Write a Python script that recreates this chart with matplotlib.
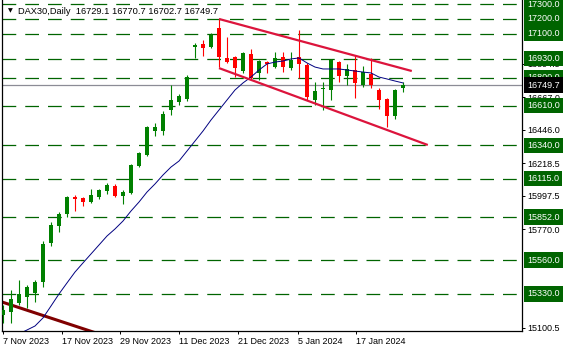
import matplotlib.pyplot as plt
from matplotlib.transforms import blended_transform_factory

plt.rcParams['font.family'] = ['Liberation Sans', 'DejaVu Sans']

# daily candles, DAX30
opens = [15187, 15207, 15269, 15309, 15337, 15411, 15677, 15792, 15874, 15989,
         15983, 15955, 15989, 16030, 16064, 15996, 16017, 16200, 16275, 16438,
         16438, 16581, 16635, 16656, 17009, 17030, 17009, 17139, 16935, 16941,
         16846, 16962, 16833, 16907, 16873, 16941, 16867, 16941, 16887, 16649,
         16724, 16717, 16907, 16812, 16853, 16751, 16826, 16717, 16656, 16540, 16729.1]
highs = [15255, 15357, 15425, 15391, 15425, 15690, 15819, 15887, 15996, 16003,
         15989, 16044, 16044, 16085, 16078, 16037, 16214, 16295, 16472, 16493,
         16574, 16751, 16690, 16819, 17037, 17057, 17105, 17200, 17077, 16945,
         16975, 16996, 16921, 16914, 16975, 16975, 16975, 17125, 16901, 16771,
         16771, 16928, 16914, 16894, 16955, 16880, 16935, 16731, 16663, 16724, 16770.7]
lows = [15133, 15133, 15255, 15235, 15275, 15377, 15656, 15751, 15853, 15894,
        15928, 15949, 15976, 16010, 15989, 15942, 16010, 16193, 16268, 16404,
        16411, 16547, 16615, 16642, 16935, 16948, 17000, 16873, 16901, 16805,
        16833, 16785, 16785, 16833, 16867, 16839, 16853, 16799, 16649, 16615,
        16581, 16649, 16771, 16751, 16663, 16737, 16731, 16588, 16465, 16520, 16702.7]
closes = [15221, 15296, 15330, 15377, 15411, 15670, 15799, 15874, 15989, 15976,
          15955, 16003, 16037, 16071, 15996, 16023, 16207, 16289, 16465, 16465,
          16554, 16649, 16676, 16805, 17023, 17003, 17091, 16941, 16907, 16867,
          16969, 16799, 16914, 16894, 16935, 16873, 16921, 16894, 16669, 16710,
          16731, 16921, 16812, 16860, 16765, 16839, 16751, 16649, 16540, 16717, 16749.7]

# moving average, starts at bar 2
ma_start = 2
ma_values = [15058, 15085, 15112, 15167, 15248, 15330, 15405, 15479, 15541, 15602, 15663,
             15724, 15772, 15826, 15894, 15955, 16023, 16078, 16139, 16193, 16234,
             16302, 16370, 16438, 16513, 16581, 16649, 16717, 16765, 16805, 16853,
             16894, 16907, 16914, 16928, 16935, 16901, 16873, 16860, 16860, 16860,
             16853, 16846, 16839, 16833, 16805, 16792, 16778, 16765]

# support / resistance levels
levels = [17300, 17200, 17100, 16930, 16800, 16610, 16340, 16115, 15852, 15560, 15330]
scale_ticks = [15100.5, 15770.0, 15997.5, 16218.5, 16446.0, 16667.0, 16894.5]
last_price = 16749.7

# trend lines (bar index, price)
upper_x = [27, 51.1]
upper_y = [17200, 16846]
lower_x = [27, 53.1]
lower_y = [16866, 16343]
old_x = [-0.5, 12]
old_y = [15282, 15058]

date_labels = ['7 Nov 2023', '17 Nov 2023', '29 Nov 2023', '11 Dec 2023',
               '21 Dec 2023', '5 Jan 2024', '17 Jan 2024']
date_pos = [0, 7.35, 14.6, 22.05, 29.4, 36.85, 44.15]

fig = plt.figure(figsize=(5.68, 3.52), dpi=100)
ax = fig.add_axes([2 / 568, 21 / 352, 520 / 568, 331 / 352])

for lv in levels:
    ax.axhline(lv, color='#006400', lw=0.9, dashes=(11, 7.2), zorder=1)
ax.axhline(last_price, color='#8c8c96', lw=0.9, zorder=1.5)

ax.plot(old_x, old_y, color='#800000', lw=2.2, zorder=2)

green, red = '#008000', '#ff0000'
for i in range(len(opens)):
    o, h, l, c = opens[i], highs[i], lows[i], closes[i]
    col = green if c >= o else red
    ax.vlines(i, l, h, color=col, lw=0.8, zorder=3)
    ax.bar(i, max(abs(c - o), 5), bottom=min(o, c), width=0.62, color=col,
           linewidth=0, zorder=3)

ax.plot(range(ma_start, ma_start + len(ma_values)), ma_values, color='#000080',
        lw=0.7, zorder=4)

ax.plot(upper_x, upper_y, color='#dc143c', lw=1.6, zorder=4, solid_capstyle='butt')
ax.plot(lower_x, lower_y, color='#dc143c', lw=1.6, zorder=4, solid_capstyle='butt')

ax.set_xlim(-0.125, 64.875)
ax.set_ylim(15078, 17329)

ax.spines['top'].set_visible(False)
for s in ['left', 'right', 'bottom']:
    ax.spines[s].set_color('black')
    ax.spines[s].set_linewidth(0.9)

ax.yaxis.tick_right()
ax.set_yticks(scale_ticks, [f'{v:.1f}' for v in scale_ticks])
ax.tick_params(axis='y', labelsize=6.5, length=2.2, width=0.7, pad=1.5, colors='black')
ax.set_xticks(date_pos, date_labels, ha='left')
ax.tick_params(axis='x', labelsize=6.5, length=2.2, width=0.7, pad=2)

tr = blended_transform_factory(ax.transAxes, ax.transData)
for lv in levels:
    ax.text(1.0096, lv, f'{lv:.1f}', transform=tr, ha='left', va='center',
            fontsize=6.5, color='white', clip_on=False, zorder=6,
            bbox=dict(boxstyle='square,pad=0.36', fc='#006400', ec='none'))
ax.text(1.0096, last_price, f'{last_price:.1f}', transform=tr, ha='left', va='center',
        fontsize=6.5, color='white', clip_on=False, zorder=7,
        bbox=dict(boxstyle='square,pad=0.36', fc='black', ec='none'))

fig.text(10 / 568, 1 - 11 / 352, '▼', fontsize=4.5, ha='center', va='center',
         family='DejaVu Sans')
fig.text(18 / 568, 1 - 11 / 352, 'DAX30,Daily  16729.1 16770.7 16702.7 16749.7',
         fontsize=6.7, ha='left', va='center')

fig.savefig('out.png', dpi=100)
